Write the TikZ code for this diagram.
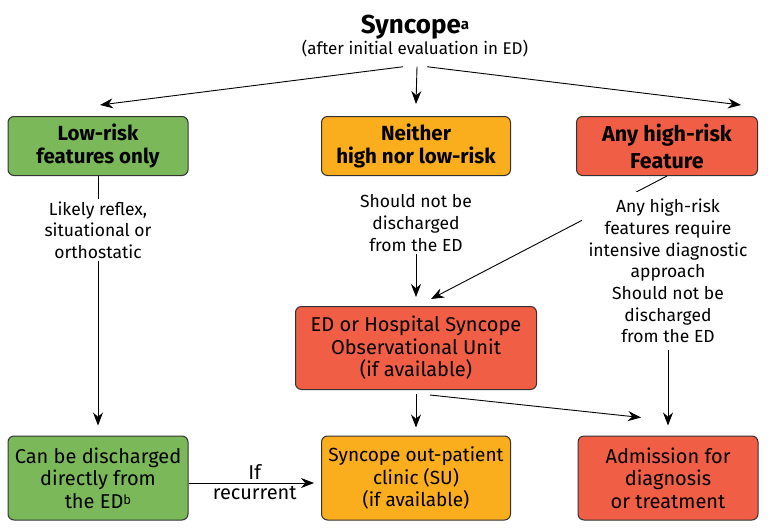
\documentclass[tikz,border=0pt]{standalone}
\usepackage{fontspec}
\setmainfont{Fira Sans}
\usetikzlibrary{arrows.meta,calc}
\newlength{\du}
\setlength{\du}{1pt}

\begin{document}
\begin{tikzpicture}[
  box/.style={draw=boxline, line width=1\du, rounded corners=6\du, align=center, inner sep=0pt, font=\fontsize{20}{22.5}\selectfont},
  headbox/.style={box, minimum height=59\du, font=\fontsize{20.5}{23}\selectfont\bfseries},
  lowbox/.style={box, minimum height=84\du},
  note/.style={align=center, inner sep=2\du, font=\fontsize{17.5}{21.7}\selectfont},
  link/.style={line width=0.9\du},
  arr/.style={link, -{Stealth[length=13pt,width=10pt]}},
]
\pgftransformxscale{1.000000}
\pgftransformyscale{-1.000000}
\definecolor{boxline}{rgb}{0.200000, 0.200000, 0.200000}
\definecolor{lowgreen}{rgb}{0.478000, 0.722000, 0.353000}
\definecolor{midorange}{rgb}{0.980000, 0.678000, 0.114000}
\definecolor{highred}{rgb}{0.945000, 0.369000, 0.275000}
\useasboundingbox (0.000000\du,0.000000\du) rectangle (768.000000\du,530.000000\du);
% title
\node[align=center, inner sep=0pt] (title) at (415.000000\du,36.000000\du)
  {{\fontsize{26}{28}\selectfont\bfseries Syncope\raisebox{4\du}{\fontsize{15}{15}\selectfont a}}\\[-1\du]
   {\fontsize{17}{20}\selectfont (after initial evaluation in ED)}};
% first row
\node[headbox, fill=lowgreen, minimum width=180\du] (low) at (98.000000\du,146.000000\du) {Low-risk\\features only};
\node[headbox, fill=midorange, minimum width=189\du] (neither) at (416.000000\du,146.000000\du) {Neither\\high nor low-risk};
\node[headbox, fill=highred, minimum width=181\du, font=\fontsize{21.5}{27}\selectfont\bfseries] (high) at (667.000000\du,146.000000\du) {Any high-risk\\Feature};
% middle row
\node[box, fill=highred, minimum width=241\du, minimum height=83\du] (unit) at (416.000000\du,348.000000\du) {ED or Hospital Syncope\\Observational Unit\\(if available)};
% last row
\node[lowbox, fill=lowgreen, minimum width=180\du] (discharge) at (98.000000\du,478.000000\du) {Can be discharged\\directly from\\the ED\raisebox{4\du}{\fontsize{13}{13}\selectfont b}};
\node[lowbox, fill=midorange, minimum width=189\du, font=\fontsize{19}{22.5}\selectfont] (clinic) at (416.000000\du,478.000000\du) {Syncope out-patient\\clinic (SU)\\(if available)};
\node[lowbox, fill=highred, minimum width=180\du] (admission) at (668.000000\du,478.000000\du) {Admission for\\diagnosis\\or treatment};
% notes
\node[note] (lownote) at (98.000000\du,230.000000\du) {Likely reflex,\\situational or\\orthostatic};
\node[note] (neithernote) at (416.000000\du,223.000000\du) {Should not be\\discharged\\from the ED};
% arrows from the title
\draw[arr] ($(title.south)+(-12pt,10pt)$) -- ($(low.north)+(2pt,-11pt)$);
\draw[arr] ($(title.south)+(2pt,10pt)$) -- ($(neither.north)+(0pt,-12pt)$);
\draw[arr] ($(title.south)+(12pt,10pt)$) -- ($(high.north)+(74pt,-11pt)$);
% low-risk branch
\draw[link] (low) -- (lownote);
\draw[arr, shorten >=10\du] (lownote) -- (discharge);
\draw[arr, shorten >=7\du] ($(discharge.east)+(0pt,5pt)$) -- node[above, font=\fontsize{20}{22}\selectfont]{If} node[below, font=\fontsize{20}{22}\selectfont]{recurrent} ($(clinic.west)+(0pt,5pt)$);
% neither branch
\draw[arr, shorten >=9\du] (neithernote) -- (unit);
% high-risk branch
\draw[arr] (high.south) -- ($(unit.north)+(15pt,-7pt)$);
\node[note, fill=white, inner sep=7\du] (highnote) at (668.000000\du,271.000000\du) {Any high-risk\\features require\\intensive diagnostic\\approach\\Should not be\\discharged\\from the ED};
\draw[arr, shorten >=10\du] (highnote) -- (admission);
% observational unit
\draw[arr, shorten <=4\du, shorten >=8\du] (unit) -- (clinic);
\draw[arr] ($(unit.south)+(14pt,5pt)$) -- ($(admission.north)+(-27pt,-18pt)$);
\end{tikzpicture}
\end{document}
